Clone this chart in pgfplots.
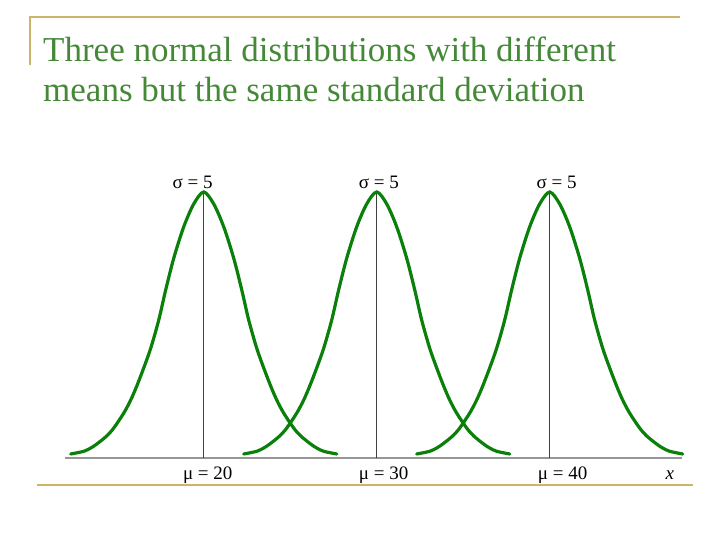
\documentclass[border=0pt]{standalone}
\usepackage{fontspec}
\setmainfont{Liberation Serif}
\usepackage{pgfplots}
\usepackage{pgfplotstable}
\pgfplotsset{compat=1.18}
\definecolor{titlegreen}{RGB}{68,136,56}
\definecolor{curvegreen}{RGB}{10,128,10}
\definecolor{gold}{RGB}{204,180,104}
\definecolor{axisgray}{RGB}{150,150,150}

\pgfplotstableread{
x y
12.31 0.0012
13.06 0.0020
13.47 0.0030
13.82 0.0042
14.39 0.0066
14.80 0.0090
15.38 0.0135
15.78 0.0174
16.13 0.0216
16.53 0.0270
16.94 0.0330
17.40 0.0414
17.80 0.0504
18.27 0.0600
18.84 0.0693
19.42 0.0762
20.00 0.0798
20.58 0.0762
21.16 0.0693
21.73 0.0600
22.20 0.0504
22.60 0.0414
23.06 0.0330
23.47 0.0270
23.87 0.0216
24.22 0.0174
24.62 0.0135
25.20 0.0090
25.61 0.0066
26.18 0.0042
26.53 0.0030
26.94 0.0020
27.69 0.0012
}\curveA

\pgfplotstableread{
x y
22.31 0.0012
23.06 0.0020
23.47 0.0030
23.82 0.0042
24.39 0.0066
24.80 0.0090
25.38 0.0135
25.78 0.0174
26.13 0.0216
26.53 0.0270
26.94 0.0330
27.40 0.0414
27.80 0.0504
28.27 0.0600
28.84 0.0693
29.42 0.0762
30.00 0.0798
30.58 0.0762
31.16 0.0693
31.73 0.0600
32.20 0.0504
32.60 0.0414
33.06 0.0330
33.47 0.0270
33.87 0.0216
34.22 0.0174
34.62 0.0135
35.20 0.0090
35.61 0.0066
36.18 0.0042
36.53 0.0030
36.94 0.0020
37.69 0.0012
}\curveB

\pgfplotstableread{
x y
32.31 0.0012
33.06 0.0020
33.47 0.0030
33.82 0.0042
34.39 0.0066
34.80 0.0090
35.38 0.0135
35.78 0.0174
36.13 0.0216
36.53 0.0270
36.94 0.0330
37.40 0.0414
37.80 0.0504
38.27 0.0600
38.84 0.0693
39.42 0.0762
40.00 0.0798
40.58 0.0762
41.16 0.0693
41.73 0.0600
42.20 0.0504
42.60 0.0414
43.06 0.0330
43.47 0.0270
43.87 0.0216
44.22 0.0174
44.62 0.0135
45.20 0.0090
45.61 0.0066
46.18 0.0042
46.53 0.0030
46.94 0.0020
47.69 0.0012
}\curveC

\begin{document}
\begin{tikzpicture}
\path[use as bounding box] (0pt,0pt) rectangle (720pt,540pt);
% slide decoration
\draw[gold, line width=2pt] (30pt,523pt) -- (680pt,523pt);
\draw[gold, line width=2pt] (30pt,524pt) -- (30pt,475pt);
\draw[gold, line width=2pt] (37pt,55pt) -- (693pt,55pt);
% title
\node[anchor=base west, inner sep=0, text=titlegreen, font=\fontsize{35}{40}\selectfont] at (43pt,478pt) {Three normal distributions with different};
\node[anchor=base west, inner sep=0, text=titlegreen, font=\fontsize{35}{40}\selectfont] at (43pt,438pt) {means but the same standard deviation};

\begin{axis}[
  at={(65pt,82pt)}, anchor=south west,
  scale only axis, width=617pt, height=266pt,
  xmin=11.98, xmax=47.65, ymin=0, ymax=0.0798,
  axis lines=none, clip=false,
]
% x axis line
\addplot[axisgray, line width=2pt] coordinates {(11.98,0) (47.65,0)};
% mean lines
\addplot[black!75, line width=0.8pt] coordinates {(20,0) (20,0.0798)};
\addplot[black!75, line width=0.8pt] coordinates {(30,0) (30,0.0798)};
\addplot[black!75, line width=0.8pt] coordinates {(40,0) (40,0.0798)};
% curves
\addplot[curvegreen, line width=3.2pt, smooth, line cap=round] table {\curveA};
\addplot[curvegreen, line width=3.2pt, smooth, line cap=round] table {\curveB};
\addplot[curvegreen, line width=3.2pt, smooth, line cap=round] table {\curveC};
% labels
\node[anchor=base, inner sep=0, font=\fontsize{19}{22}\selectfont, yshift=3pt] at (axis cs:19.36,0.0798) {σ = 5};
\node[anchor=base, inner sep=0, font=\fontsize{19}{22}\selectfont, yshift=3pt] at (axis cs:30.12,0.0798) {σ = 5};
\node[anchor=base, inner sep=0, font=\fontsize{19}{22}\selectfont, yshift=3pt] at (axis cs:40.40,0.0798) {σ = 5};
\node[anchor=base, inner sep=0, font=\fontsize{19}{22}\selectfont, yshift=-22pt] at (axis cs:20.23,0) {μ = 20};
\node[anchor=base, inner sep=0, font=\fontsize{19}{22}\selectfont, yshift=-22pt] at (axis cs:30.40,0) {μ = 30};
\node[anchor=base, inner sep=0, font=\fontsize{19}{22}\selectfont, yshift=-22pt] at (axis cs:40.75,0) {μ = 40};
\node[anchor=base, inner sep=0, font=\fontsize{19}{22}\selectfont\itshape, yshift=-22pt] at (axis cs:46.95,0) {x};
\end{axis}
\end{tikzpicture}
\end{document}
